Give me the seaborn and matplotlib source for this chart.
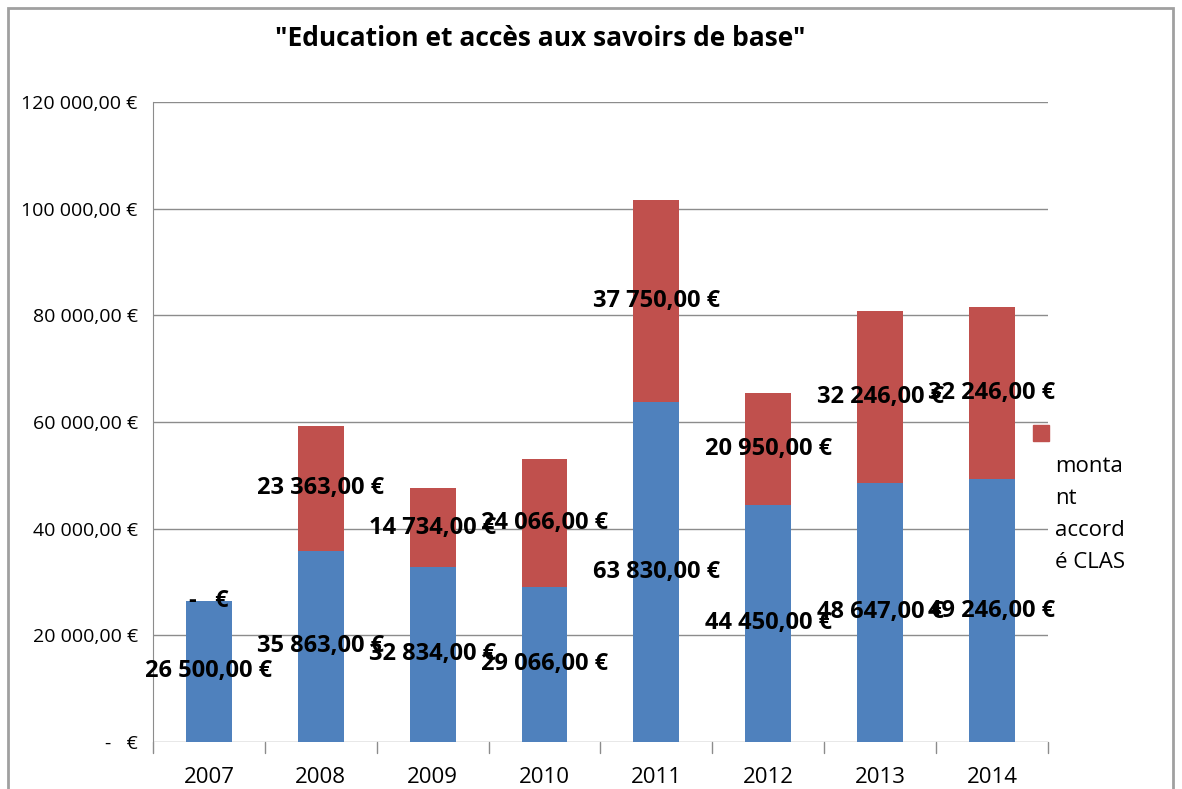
import numpy as np
import pandas as pd
import matplotlib
matplotlib.use("Agg")
import matplotlib.pyplot as plt
import seaborn as sns
from matplotlib.patches import Rectangle

ANNEES = ["2007", "2008", "2009", "2010", "2011", "2012", "2013", "2014"]
MONTANT_BASE = [26500, 35863, 32834, 29066, 63830, 44450, 48647, 49246]
MONTANT_CLAS = [0, 23363, 14734, 24066, 37750, 20950, 32246, 32246]
TITRE = "\"Education et accès aux savoirs de base\""
LEGENDE = "monta\nnt\naccord\né CLAS"

BLEU = "#4F81BD"
ROUGE = "#C0504D"
GRIS = "#8C8C8C"


def euro(v):
    if v == 0:
        return "-   €"
    s = f"{v:,.2f}".replace(",", " ").replace(".", ",")
    return s + " €"


df = pd.DataFrame({"annee": ANNEES, "base": MONTANT_BASE, "clas": MONTANT_CLAS})
df["total"] = df["base"] + df["clas"]

sns.set_style("white")
plt.rcParams["font.family"] = ["Open Sans", "DejaVu Sans"]
plt.rcParams["text.color"] = "black"
plt.rcParams["xtick.color"] = "black"
plt.rcParams["ytick.color"] = "black"

fig = plt.figure(figsize=(11.82, 7.89), dpi=100)
ax = fig.add_axes([0.1294, 0.0596, 0.7572, 0.8111])

# barres empilées : total en rouge, base en bleu par-dessus
sns.barplot(data=df, x="annee", y="total", color=ROUGE, saturation=1,
            width=0.41, linewidth=0, ax=ax, zorder=3)
sns.barplot(data=df, x="annee", y="base", color=BLEU, saturation=1,
            width=0.41, linewidth=0, ax=ax, zorder=3)

ax.set_ylim(0, 120000)
ax.set_xlim(-0.5, len(ANNEES) - 0.5)
yt = np.arange(0, 120001, 20000)
ax.set_yticks(yt)
ax.set_yticklabels([euro(v) for v in yt], fontsize=14)
ax.tick_params(axis="y", length=8, color=GRIS, labelcolor="black", pad=3)
ax.tick_params(axis="x", length=0, labelsize=16, labelcolor="black", pad=18)
ax.set_xlabel("")
ax.set_ylabel("")
for y in yt:
    ax.axhline(y, color=GRIS, lw=1, zorder=1)
for x in np.arange(-0.5, len(ANNEES), 1):
    ax.plot([x, x], [0, -2000], color=GRIS, lw=1, clip_on=False)
for s in ["top", "right", "bottom"]:
    ax.spines[s].set_visible(False)
ax.spines["left"].set_color(GRIS)

# étiquettes de données
for i, (b, c) in enumerate(zip(MONTANT_BASE, MONTANT_CLAS)):
    ax.text(i, b / 2, euro(b), ha="center", va="center", fontsize=17,
            fontweight="bold", color="black", zorder=5)
    ax.text(i, b + c / 2, euro(c), ha="center", va="center", fontsize=17,
            fontweight="bold", color="black", zorder=5)

fig.text(0.457, 1 - 39 / 789, TITRE, ha="center", va="center", fontsize=19,
         fontweight="bold", color="black")

# légende
fig.patches.append(Rectangle((1033 / 1182, 1 - 441 / 789), 16 / 1182, 16 / 789,
                             transform=fig.transFigure, color=ROUGE))
fig.text(1055 / 1182, 1 - 456 / 789, LEGENDE, ha="left", va="top",
         fontsize=16, linespacing=1.68, color="black")

# cadre
fig.patches.append(Rectangle((8 / 1182, -0.05), 1165 / 1182, 1.05 - 8 / 789,
                             transform=fig.transFigure, fill=False,
                             edgecolor="#A0A0A0", lw=2))

fig.savefig("out.png", dpi=100)
